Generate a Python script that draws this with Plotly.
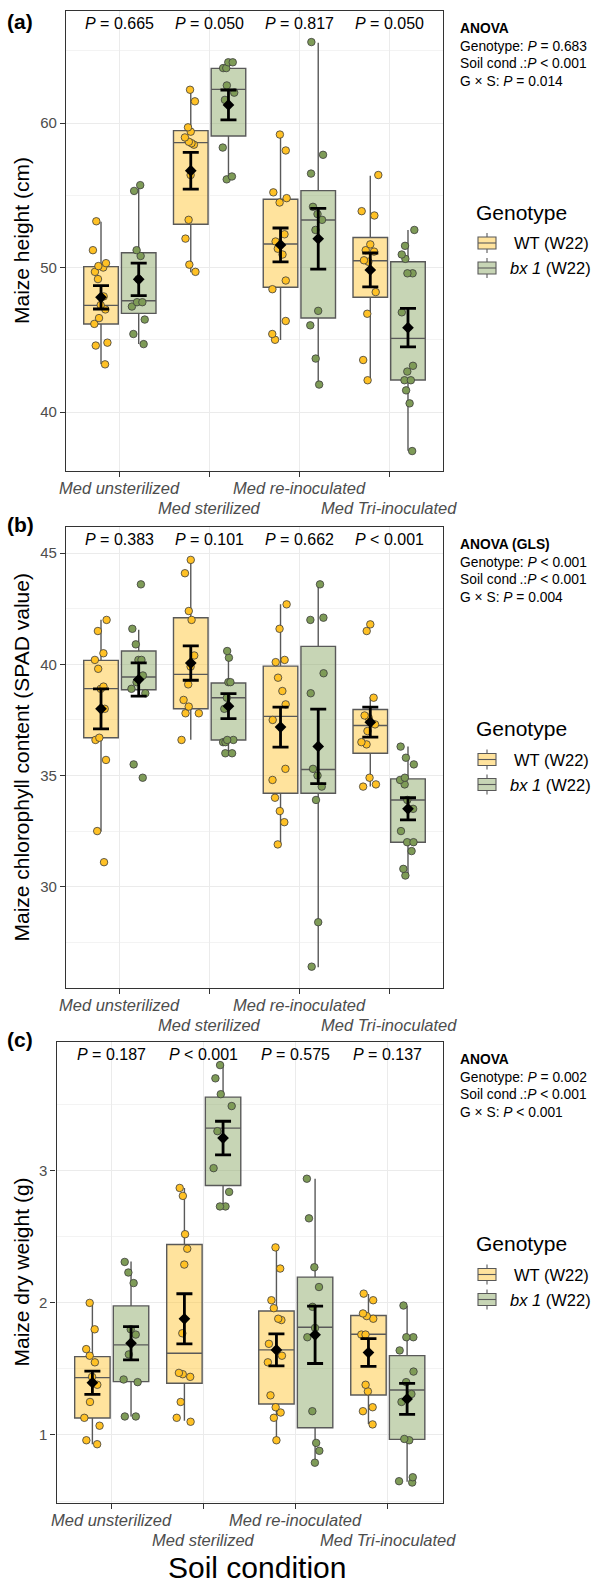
import plotly.graph_objects as go

W, H = 600, 1584
FONT = "Liberation Sans, Arial, sans-serif"

# ---------------- data ----------------
categories = ["Med unsterilized", "Med sterilized", "Med re-inoculated", "Med Tri-inoculated"]
genotype_labels = ["WT (W22)", "<i>bx 1</i> (W22)"]

# (a) Maize height (cm)
height_wt_pts = [
    [53.2, 51.2, 50.3, 50.1, 50.0, 49.7, 49.2, 48.0, 47.4, 47.1, 46.5, 46.1, 44.8, 44.6, 43.3],
    [62.3, 61.5, 59.7, 59.4, 59.0, 58.7, 58.6, 58.5, 56.4, 53.3, 52.0, 50.2, 49.7],
    [59.2, 58.1, 55.2, 54.8, 54.5, 52.3, 51.8, 51.3, 50.9, 49.1, 48.5, 46.3, 45.4, 45.0],
    [56.4, 53.9, 53.6, 51.6, 51.2, 51.1, 50.5, 50.4, 48.3, 46.8, 43.6, 42.2],
]
height_bx_pts = [
    [55.7, 55.3, 51.2, 50.8, 49.2, 47.6, 47.6, 47.3, 46.4, 45.4, 44.7],
    [64.2, 64.2, 63.8, 63.8, 62.6, 62.1, 61.6, 58.3, 56.3, 56.1],
    [65.6, 57.8, 56.5, 54.2, 53.7, 53.3, 52.6, 47.0, 46.0, 43.7, 41.9],
    [52.6, 51.5, 50.9, 50.6, 49.6, 49.6, 46.9, 43.2, 42.8, 42.2, 42.2, 41.5, 40.6, 37.3],
]
# (lower whisker, q1, median, q3, upper whisker)
height_wt_box = [(43.32, 46.09, 47.38, 50.06, 53.17), (49.67, 52.99, 58.64, 59.47, 62.28),
                 (44.98, 48.63, 51.63, 54.72, 59.17), (42.22, 47.94, 50.47, 52.08, 56.35)]
height_bx_box = [(44.71, 46.83, 47.70, 51.02, 55.71), (56.06, 59.10, 62.33, 63.78, 64.24),
                 (41.94, 46.51, 53.29, 55.32, 65.56), (37.32, 42.22, 45.10, 50.40, 52.60)]
height_wt_mean = [47.94, 56.70, 51.56, 49.83]
height_wt_se = [0.81, 1.27, 1.175, 1.175]
height_bx_mean = [49.18, 61.25, 51.99, 45.84]
height_bx_se = [1.13, 1.035, 2.10, 1.33]
height_pvals = ["= 0.665", "= 0.050", "= 0.817", "= 0.050"]
height_anova = ["ANOVA", "Genotype: <i>P</i> = 0.683", "Soil cond\u2009.:<i>P</i> &lt; 0.001", "G × S: <i>P</i> = 0.014"]

# (b) Chlorophyll (SPAD)
spad_wt_pts = [
    [42.0, 41.5, 40.5, 40.2, 39.8, 39.0, 38.9, 38.0, 36.7, 36.6, 35.7, 32.5, 31.1],
    [44.7, 44.1, 42.4, 42.0, 40.4, 39.9, 39.1, 38.4, 38.1, 37.8, 37.8, 36.6],
    [42.7, 41.6, 40.2, 40.1, 39.4, 38.8, 38.2, 37.5, 35.3, 34.8, 34.0, 33.4, 32.9, 31.9],
    [41.8, 41.5, 38.5, 37.7, 37.6, 37.3, 37.0, 36.5, 36.4, 34.9, 34.6, 34.5],
]
spad_bx_pts = [
    [43.6, 41.6, 40.9, 40.2, 40.2, 39.5, 39.2, 38.9, 38.7, 35.5, 34.9],
    [40.6, 40.3, 39.2, 39.2, 38.5, 38.0, 36.6, 36.6, 36.5, 36.5, 36.0, 36.0],
    [43.6, 42.1, 42.0, 39.6, 38.7, 35.3, 35.0, 34.5, 33.9, 28.4, 26.4],
    [36.3, 35.8, 35.5, 34.9, 34.8, 34.6, 33.9, 33.5, 32.5, 32.0, 32.0, 31.6, 30.8, 30.5],
]
spad_wt_box = [(32.48, 36.70, 38.91, 40.18, 42.01), (36.61, 38.00, 39.55, 42.10, 44.71),
               (31.88, 34.20, 37.66, 39.92, 42.70), (34.50, 36.00, 37.25, 37.97, 38.53)]
spad_bx_box = [(38.60, 38.86, 39.43, 40.60, 41.56), (35.98, 36.60, 38.50, 39.16, 40.56),
               (26.37, 34.20, 35.27, 40.81, 43.63), (30.50, 32.00, 33.90, 34.85, 36.31)]
spad_wt_mean = [38.00, 40.06, 37.18, 37.40]
spad_wt_se = [0.90, 0.775, 0.90, 0.675]
spad_bx_mean = [39.32, 38.12, 36.31, 33.50]
spad_bx_se = [0.75, 0.565, 1.675, 0.50]
spad_pvals = ["= 0.383", "= 0.101", "= 0.662", "&lt; 0.001"]
spad_anova = ["ANOVA (GLS)", "Genotype: <i>P</i> &lt; 0.001", "Soil cond\u2009.:<i>P</i> &lt; 0.001", "G × S: <i>P</i> = 0.004"]

# (c) Dry weight (g)
dry_wt_pts = [
    [2.00, 1.80, 1.65, 1.60, 1.55, 1.44, 1.38, 1.25, 1.13, 1.07, 0.96, 0.93],
    [2.87, 2.81, 2.52, 2.41, 2.29, 1.77, 1.47, 1.46, 1.44, 1.25, 1.13, 1.10],
    [2.42, 2.26, 2.02, 1.96, 1.88, 1.87, 1.69, 1.60, 1.55, 1.30, 1.21, 1.17, 1.13, 0.96],
    [2.07, 2.02, 1.92, 1.90, 1.88, 1.76, 1.76, 1.38, 1.33, 1.21, 1.18, 1.08],
]
dry_bx_pts = [
    [2.31, 2.23, 2.15, 1.80, 1.76, 1.61, 1.42, 1.40, 1.14, 1.14],
    [3.80, 3.70, 3.58, 3.49, 3.30, 3.02, 2.84, 2.73, 2.73],
    [2.94, 2.64, 2.27, 2.12, 1.97, 1.81, 1.74, 1.18, 0.94, 0.88, 0.79],
    [1.98, 1.74, 1.74, 1.64, 1.48, 1.40, 1.31, 1.25, 0.97, 0.96, 0.68, 0.65, 0.64],
]
dry_wt_box = [(0.930, 1.129, 1.434, 1.593, 2.005), (1.108, 1.392, 1.619, 2.442, 2.869),
              (0.962, 1.235, 1.644, 1.939, 2.419), (1.083, 1.303, 1.763, 1.904, 2.068)]
dry_bx_box = [(1.139, 1.404, 1.682, 1.977, 2.313), (2.730, 2.889, 3.323, 3.558, 3.803),
              (0.785, 1.055, 1.816, 2.195, 2.939), (0.645, 0.967, 1.341, 1.601, 1.977)]
dry_wt_mean = [1.396, 1.879, 1.644, 1.624]
dry_wt_se = [0.088, 0.190, 0.121, 0.105]
dry_bx_mean = [1.695, 3.248, 1.758, 1.273]
dry_bx_se = [0.126, 0.127, 0.217, 0.117]
dry_pvals = ["= 0.187", "&lt; 0.001", "= 0.575", "= 0.137"]
dry_anova = ["ANOVA", "Genotype: <i>P</i> = 0.002", "Soil cond\u2009.:<i>P</i> &lt; 0.001", "G × S: <i>P</i> &lt; 0.001"]

# ---------------- style ----------------
WT_FILL = "rgba(255,193,37,0.45)"
BX_FILL = "rgba(131,162,91,0.45)"
WT_PT = "#FFC125"
BX_PT = "#7E9B57"
BOX_LINE = "#595959"
OFFSET = 0.21
BOXW = 0.385


def px_x(p):
    return p / W


def px_y(p):
    return 1 - p / H


panels = [
    dict(tag="(a)", title="Maize height (cm)", wt_pts=height_wt_pts, bx_pts=height_bx_pts,
         wt_box=height_wt_box, bx_box=height_bx_box, wt_mean=height_wt_mean, wt_se=height_wt_se,
         bx_mean=height_bx_mean, bx_se=height_bx_se, pvals=height_pvals, anova=height_anova,
         left=66, top=11, bottom=471, yrange=[35.92, 67.75], dtick=10, minor=5, tagy=22),
    dict(tag="(b)", title="Maize chlorophyll content (SPAD value)", wt_pts=spad_wt_pts, bx_pts=spad_bx_pts,
         wt_box=spad_wt_box, bx_box=spad_bx_box, wt_mean=spad_wt_mean, wt_se=spad_wt_se,
         bx_mean=spad_bx_mean, bx_se=spad_bx_se, pvals=spad_pvals, anova=spad_anova,
         left=66, top=527, bottom=988, yrange=[25.44, 46.18], dtick=5, minor=2.5, tagy=524),
    dict(tag="(c)", title="Maize dry weight (g)", wt_pts=dry_wt_pts, bx_pts=dry_bx_pts,
         wt_box=dry_wt_box, bx_box=dry_bx_box, wt_mean=dry_wt_mean, wt_se=dry_wt_se,
         bx_mean=dry_bx_mean, bx_se=dry_bx_se, pvals=dry_pvals, anova=dry_anova,
         left=56.5, top=1042, bottom=1503, yrange=[0.485, 3.975], dtick=1, minor=0.5, tagy=1039),
]
RIGHT = 443

fig = go.Figure()
annotations = []
shapes = []

for i, p in enumerate(panels):
    sfx = "" if i == 0 else str(i + 1)
    xa, ya = "x" + sfx, "y" + sfx
    ncat = len(categories)
    for g, (box, fill) in enumerate([(p["wt_box"], WT_FILL), (p["bx_box"], BX_FILL)]):
        off = -OFFSET if g == 0 else OFFSET
        pos = [c + off for c in range(ncat)]
        fig.add_trace(go.Box(
            x=pos, lowerfence=[b[0] for b in box], q1=[b[1] for b in box], median=[b[2] for b in box],
            q3=[b[3] for b in box], upperfence=[b[4] for b in box], orientation="v",
            width=BOXW, fillcolor=fill, line=dict(color=BOX_LINE, width=1.4), whiskerwidth=0,
            boxpoints=False, showlegend=False, hoverinfo="skip", xaxis=xa, yaxis=ya))
    for g, (pts, ptc) in enumerate([(p["wt_pts"], WT_PT), (p["bx_pts"], BX_PT)]):
        off = -OFFSET if g == 0 else OFFSET
        xs, ys = [], []
        for c, vals in enumerate(pts):
            xs += [c + off] * len(vals)
            ys += vals
        fig.add_trace(go.Box(
            x=xs, y=ys, boxpoints="all", jitter=0.55, pointpos=0, width=BOXW,
            fillcolor="rgba(0,0,0,0)", line=dict(color="rgba(0,0,0,0)", width=0), whiskerwidth=0,
            marker=dict(color=ptc, size=7.5, opacity=1, line=dict(color="#3c3c3c", width=0.8)),
            showlegend=False, hoverinfo="skip", xaxis=xa, yaxis=ya))
    for g, (mean, se) in enumerate([(p["wt_mean"], p["wt_se"]), (p["bx_mean"], p["bx_se"])]):
        off = -OFFSET if g == 0 else OFFSET
        pos = [c + off for c in range(ncat)]
        fig.add_trace(go.Scatter(
            x=pos, y=mean, mode="markers",
            marker=dict(symbol="diamond", size=9, color="black"),
            error_y=dict(type="data", array=se, color="black", thickness=2.8, width=8),
            showlegend=False, hoverinfo="skip", xaxis=xa, yaxis=ya))

    xdom = [px_x(p["left"]), px_x(RIGHT)]
    ydom = [px_y(p["bottom"]), px_y(p["top"])]
    axis_common = dict(showline=True, mirror=True, linecolor="#333333", linewidth=1.3,
                       ticks="outside", tickcolor="#333333", ticklen=5, tickwidth=1.1,
                       showgrid=True, gridcolor="#EBEBEB", gridwidth=1.1, zeroline=False,
                       tickfont=dict(family=FONT, size=15, color="#4D4D4D"))
    fig.layout["xaxis" + sfx] = dict(domain=xdom, anchor=ya, range=[-0.6, 3.6],
                                     tickvals=list(range(ncat)), showticklabels=False, **axis_common)
    fig.layout["yaxis" + sfx] = dict(domain=ydom, anchor=xa, range=p["yrange"], dtick=p["dtick"],
                                     minor=dict(dtick=p["minor"], showgrid=True, gridcolor="#F3F3F3",
                                                gridwidth=0.7),
                                     **axis_common)

    # category labels (staggered)
    for c, lab in enumerate(categories):
        yy = p["bottom"] + (17 if c % 2 == 0 else 37)
        annotations.append(dict(x=c, xref=xa, y=px_y(yy), yref="paper", text="<i>%s</i>" % lab,
                                showarrow=False, xanchor="center", yanchor="middle",
                                font=dict(family=FONT, size=16.5, color="#4D4D4D")))
    # p values
    for c, pv in enumerate(p["pvals"]):
        annotations.append(dict(x=c, xref=xa, y=px_y(p["top"] + 12.5), yref="paper",
                                text="<i>P</i> %s" % pv, showarrow=False, xanchor="center",
                                yanchor="middle", font=dict(family=FONT, size=16, color="black")))
    # anova
    for k, line in enumerate(p["anova"]):
        txt = "<b>%s</b>" % line if k == 0 else line
        annotations.append(dict(x=px_x(458), xref="paper", y=px_y(p["top"] + 17.5 + 17.5 * k),
                                yref="paper", text=txt, showarrow=False, xanchor="left",
                                yanchor="middle", font=dict(family=FONT, size=13.8, color="black")))
    # panel tag
    annotations.append(dict(x=px_x(20), xref="paper", y=px_y(p["tagy"]),
                            yref="paper", text="<b>%s</b>" % p["tag"], showarrow=False,
                            xanchor="center", yanchor="middle", font=dict(family=FONT, size=21, color="black")))
    # y title
    annotations.append(dict(x=px_x(21), xref="paper", y=px_y((p["top"] + p["bottom"]) / 2), yref="paper",
                            text=p["title"], textangle=-90, showarrow=False, xanchor="center",
                            yanchor="middle", font=dict(family=FONT, size=21, color="black")))
    # legend
    mid = (p["top"] + p["bottom"]) / 2
    annotations.append(dict(x=px_x(474), xref="paper", y=px_y(mid - 29), yref="paper", text="Genotype",
                            showarrow=False, xanchor="left", yanchor="middle",
                            font=dict(family=FONT, size=21, color="black")))
    for g, (lab, fill) in enumerate(zip(genotype_labels, [WT_FILL, BX_FILL])):
        cy = mid + 2 + 25 * g
        shapes.append(dict(type="line", xref="paper", yref="paper", x0=px_x(487), x1=px_x(487),
                           y0=px_y(cy - 10), y1=px_y(cy + 10), line=dict(color=BOX_LINE, width=1.1)))
        shapes.append(dict(type="rect", xref="paper", yref="paper", x0=px_x(478), x1=px_x(496),
                           y0=px_y(cy - 6), y1=px_y(cy + 6), fillcolor="white",
                           line=dict(width=0)))
        shapes.append(dict(type="rect", xref="paper", yref="paper", x0=px_x(478), x1=px_x(496),
                           y0=px_y(cy - 6), y1=px_y(cy + 6), fillcolor=fill,
                           line=dict(color=BOX_LINE, width=1.1)))
        shapes.append(dict(type="line", xref="paper", yref="paper", x0=px_x(478), x1=px_x(496),
                           y0=px_y(cy), y1=px_y(cy), line=dict(color=BOX_LINE, width=1.1)))
        annotations.append(dict(x=px_x(512 if g == 0 else 508), xref="paper", y=px_y(cy), yref="paper",
                                text=lab, showarrow=False, xanchor="left", yanchor="middle",
                                font=dict(family=FONT, size=16.5, color="black")))

annotations.append(dict(x=px_x(257), xref="paper", y=px_y(1567), yref="paper", text="Soil condition",
                        showarrow=False, xanchor="center", yanchor="middle",
                        font=dict(family=FONT, size=30, color="black")))

fig.update_layout(width=W, height=H, margin=dict(l=0, r=0, t=0, b=0), paper_bgcolor="white",
                  plot_bgcolor="white", boxmode="overlay", showlegend=False,
                  annotations=annotations, shapes=shapes, font=dict(family=FONT))

fig.write_html("out.html", config={"displayModeBar": False},
               post_script="document.body.style.margin='0px';document.body.style.overflow='hidden';")
